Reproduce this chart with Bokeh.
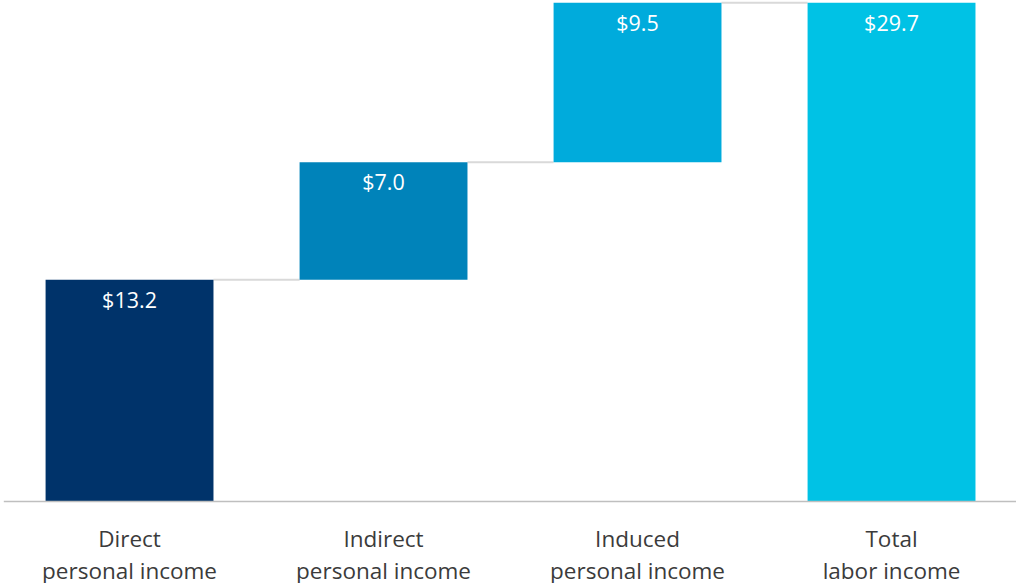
from bokeh.plotting import figure
from bokeh.models import ColumnDataSource, Range1d
from bokeh.core.properties import value
from bokeh.embed import file_html
from bokeh.resources import INLINE

# Labor income contributions (billions of dollars)
categories = ["Direct\npersonal income", "Indirect\npersonal income",
              "Induced\npersonal income", "Total\nlabor income"]
increments = [13.2, 7.0, 9.5]
total = 29.7
colors = ["#00336A", "#0083BA", "#00ABDC", "#00C2E5"]

# Waterfall geometry: each step starts where the previous ended
xs = list(range(len(categories)))
bottoms, tops = [], []
running = 0.0
for v in increments:
    bottoms.append(running)
    running += v
    tops.append(running)
bottoms.append(0.0)
tops.append(total)
vals = increments + [total]

src = ColumnDataSource(dict(
    x=xs, bottom=bottoms, top=tops, color=colors,
    label=["${:.1f}".format(v) for v in vals],
    line1=[c.split("\n")[0] for c in categories],
    line2=[c.split("\n")[1] for c in categories],
    zero=[0.0] * len(xs),
))

p = figure(width=1016, height=583, output_backend="svg", toolbar_location=None,
           x_range=Range1d(-0.508, 3.492), y_range=Range1d(-4.88, 29.83),
           min_border=0, outline_line_color=None)
p.axis.visible = False
p.grid.visible = False
p.background_fill_color = "white"

bar_w = 0.661

# connector lines between consecutive steps
cx0 = [x + bar_w / 2 for x in xs[:-1]]
cx1 = [x + 1 - bar_w / 2 for x in xs[:-1]]
cy = tops[:-1]
p.segment(x0=cx0, y0=cy, x1=cx1, y1=cy, line_color="#D9D9D9", line_width=2)

p.vbar(x="x", bottom="bottom", top="top", width=bar_w, fill_color="color",
       line_color=None, source=src)

# baseline
p.segment(x0=[-0.495], y0=[0], x1=[3.492], y1=[0], line_color="#BFBFBF", line_width=1.5)

font = value("Open Sans")
p.text(x="x", y="top", text="label", source=src, text_align="center",
       text_baseline="top", y_offset=5, text_color="white",
       text_font=font, text_font_size="21.5px")

p.text(x="x", y="zero", text="line1", source=src, text_align="center",
       text_baseline="middle", y_offset=37, text_color="#3B3B3B",
       text_font=font, text_font_size="22.5px")
p.text(x="x", y="zero", text="line2", source=src, text_align="center",
       text_baseline="middle", y_offset=69, text_color="#3B3B3B",
       text_font=font, text_font_size="22.5px")

open("out.html", "w").write(file_html(p, INLINE))
